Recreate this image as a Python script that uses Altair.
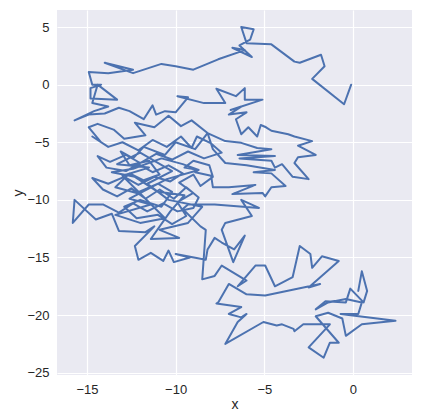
import altair as alt
import pandas as pd

upper = [(-0.1,0.0),(-0.5,-1.7),(-2.3,0.5),(-1.6,1.6),(-1.8,2.6),(-3.0,1.9),(-3.3,2.0),(-4.6,3.5),(-6.0,3.6),(-6.3,5.0),(-5.6,4.8),(-5.8,3.9),(-6.4,3.4),(-5.7,2.4),(-6.8,3.2),(-6.1,3.0),(-7.6,2.2),(-9.0,1.3),(-10.0,1.6),(-10.8,1.8),(-12.4,1.0),(-13.3,1.5),(-14.0,1.9),(-12.4,1.3),(-13.8,1.0),(-14.9,1.1),(-14.7,0.0),(-14.2,0.0),(-14.8,-0.3),(-14.8,-1.2),(-13.3,-1.3),(-14.4,0.0),(-14.7,-1.6)]

left_row = [(-13.8,-1.9),(-14.6,-2.3),(-15.7,-3.1),(-14.9,-2.6),(-14.0,-2.5),(-13.2,-2.0),(-12.6,-2.3),(-11.8,-3.0),(-11.3,-1.8),(-11.1,-2.6),(-10.6,-2.3),(-10.0,-2.4),(-9.3,-1.1),(-9.9,-1.0),(-8.4,-1.6),(-7.2,-1.6),(-7.7,-0.35),(-6.6,-1.0),(-6.1,-0.3),(-6.1,-1.3),(-5.1,-1.3),(-6.9,-2.2),(-6.3,-1.9),(-7.0,-2.6),(-6.0,-2.4),(-6.6,-3.0),(-6.3,-4.3),(-5.9,-3.7),(-5.4,-4.5),(-5.2,-3.5),(-4.9,-3.7),(-4.6,-4.0),(-3.65,-4.3),(-3.3,-4.5),(-2.3,-4.9),(-3.1,-5.3),(-2.1,-6.1),(-3.1,-6.3),(-3.3,-6.8),(-2.5,-8.2),(-3.4,-8.0),(-4.0,-6.9),(-4.4,-7.2),(-4.6,-6.6),(-6.4,-6.4),(-4.4,-6.2),(-6.5,-6.1),(-4.6,-5.6),(-5.4,-5.5),(-6.3,-5.05),(-7.2,-4.9),(-8.2,-4.2)]

center_b = [(-8.9,-5.6),(-10.0,-5.0),(-10.6,-6.1),(-11.8,-5.4),(-12.4,-6.4),(-13.1,-5.8),(-12.6,-7.0),(-11.5,-6.6),(-10.9,-7.8),(-11.8,-8.3),(-12.6,-7.7),(-13.4,-8.9),(-12.2,-9.4),(-11.0,-8.6),(-10.2,-9.3),(-10.8,-10.6),(-12.0,-10.0),(-12.9,-10.6),(-12.2,-11.6),(-11.0,-11.3),(-10.2,-12.1),(-9.4,-11.4),(-9.9,-10.2),(-9.0,-9.4),(-9.8,-8.5),(-9.0,-7.8),(-8.6,-8.8),(-7.9,-8.0),(-8.1,-7.0),(-9.0,-6.6),(-9.5,-7.2),(-8.7,-7.4)]

center_d = [(-10.5,-8.2),(-12.6,-9.9),(-11.4,-10.4),(-13.4,-11.3),(-12.0,-12.0),(-10.6,-11.6),(-11.9,-9.6),(-13.0,-7.9),(-11.5,-7.2),(-13.3,-6.9),(-12.0,-5.9),(-10.2,-7.5),(-11.6,-8.6),(-10.4,-10.0),(-8.5,-10.6),(-9.3,-12.0),(-10.9,-12.6),(-9.8,-13.3),(-11.4,-13.4),(-10.3,-11.0),(-9.5,-9.6),(-11.0,-9.3),(-12.3,-8.0),(-13.6,-7.6),(-12.4,-7.3),(-10.8,-6.4),(-9.6,-6.9),(-8.7,-7.4)]

center_c = [(-8.9,-7.6),(-8.0,-7.9),(-7.9,-8.9),(-7.0,-8.9),(-5.5,-8.7),(-6.8,-9.5),(-5.1,-9.4),(-4.95,-9.7),(-4.6,-8.9),(-3.8,-8.8),(-4.6,-7.7),(-5.6,-7.6),(-4.4,-7.4),(-6.0,-7.0),(-7.2,-6.8),(-7.9,-5.6),(-8.2,-4.2)]

center_a = [(-9.1,-3.1),(-9.7,-3.6),(-10.4,-2.7),(-11.2,-3.7),(-12.3,-3.3),(-11.7,-4.4),(-12.9,-4.7),(-13.5,-3.9),(-14.4,-3.4),(-14.9,-3.7),(-14.2,-5.0),(-14.7,-4.5),(-13.8,-5.4),(-13.0,-5.0),(-12.1,-5.7),(-11.3,-4.8),(-10.5,-5.4),(-9.7,-4.5),(-9.1,-5.5),(-8.8,-4.5),(-8.0,-5.1),(-7.4,-5.9),(-8.4,-6.4),(-9.3,-5.8),(-10.2,-6.5),(-11.1,-6.0),(-12.0,-6.8),(-12.8,-6.1),(-13.7,-6.7),(-14.4,-6.2),(-13.9,-7.2),(-12.8,-7.5),(-12.1,-6.9),(-11.3,-7.6),(-10.4,-7.0),(-9.6,-7.7),(-10.3,-8.4),(-11.2,-8.0),(-12.1,-8.7),(-12.9,-8.0),(-13.8,-8.6),(-14.7,-8.1),(-14.1,-9.1),(-13.3,-9.7),(-12.5,-9.0),(-11.7,-9.9),(-10.9,-9.1),(-10.1,-9.9),(-9.4,-8.9),(-8.7,-9.8),(-9.0,-10.7),(-9.9,-11.0),(-10.7,-10.3),(-11.6,-11.0),(-12.4,-10.3),(-13.2,-11.1),(-14.1,-10.4),(-14.9,-10.4),(-15.8,-12.0),(-15.7,-10.0),(-14.5,-11.7),(-13.6,-11.2),(-13.2,-12.7),(-11.7,-12.8),(-11.2,-12.3),(-12.3,-14.0),(-12.1,-15.2),(-11.4,-14.6),(-10.7,-15.3),(-10.4,-14.4),(-10.1,-15.4)]

lower = [(-9.2,-15.0),(-10.0,-14.7),(-8.3,-15.2),(-8.2,-14.3),(-7.8,-13.3),(-7.4,-13.7),(-6.7,-14.3),(-6.1,-13.1),(-6.75,-15.4),(-7.4,-12.6),(-7.2,-12.0),(-5.7,-11.4),(-6.3,-10.0),(-5.3,-10.7),(-7.8,-10.4),(-9.3,-10.4),(-9.6,-10.8),(-8.6,-12.3),(-8.3,-12.6),(-8.5,-16.9),(-7.8,-16.6),(-7.4,-15.7),(-6.0,-17.0),(-6.5,-17.5),(-5.5,-15.7),(-4.95,-15.7),(-4.4,-17.5),(-3.4,-16.7),(-3.0,-14.0),(-2.4,-14.7),(-2.3,-15.9),(-1.75,-14.9),(-0.8,-15.3),(-2.5,-17.6),(-1.85,-17.3),(-4.95,-18.3),(-6.0,-18.2),(-7.0,-17.3),(-7.6,-18.9),(-7.7,-19.0),(-6.3,-19.3),(-7.0,-19.9),(-6.3,-20.2),(-6.0,-19.9),(-6.5,-20.6),(-7.2,-22.5),(-5.05,-20.6),(-4.3,-20.9),(-4.0,-20.8),(-3.35,-21.2),(-3.3,-21.4),(-2.8,-20.8),(-1.3,-20.8),(-2.5,-22.8),(-1.65,-23.7),(-1.3,-22.4),(-0.8,-22.4),(-2.1,-20.1),(-1.4,-19.8),(-0.6,-20.3),(-0.4,-21.8),(0.5,-20.8),(2.4,-20.5),(-0.7,-19.9),(0.3,-19.9),(0.5,-18.9),(-0.4,-18.6),(-1.4,-18.9),(-2.1,-19.5),(-1.55,-18.8),(-0.4,-18.9),(-0.15,-17.7),(0.6,-18.9),(0.8,-17.9),(0.5,-16.2),(0.3,-17.9)]

x_ticks = [-15, -10, -5, 0]
y_ticks = [5, 0, -5, -10, -15, -20, -25]

path = upper + left_row + center_b + center_d + center_c + center_a + lower
df = pd.DataFrame({
    "i": list(range(len(path))),
    "x": [p[0] for p in path],
    "y": [p[1] for p in path],
})

chart = alt.Chart(df).mark_line(
    color="#4C72B0", strokeWidth=2, strokeJoin="round", strokeCap="round"
).encode(
    x=alt.X("x:Q", scale=alt.Scale(domain=[-16.69, 3.33], nice=False, zero=False),
            axis=alt.Axis(values=x_ticks, title="x", format="d", titlePadding=1)),
    y=alt.Y("y:Q", scale=alt.Scale(domain=[-25.2, 6.48], nice=False, zero=False),
            axis=alt.Axis(values=y_ticks, title="y", format="d", titlePadding=1)),
    order=alt.Order("i:Q"),
).properties(
    width=355, height=365,
    autosize=alt.AutoSizeParams(type="none"),
    padding={"left": 49, "top": 2, "right": 0, "bottom": 37},
).configure_view(
    fill="#EAEAF2", stroke=None
).configure_axis(
    grid=True, gridColor="white", gridWidth=1.2, domain=False, ticks=False,
    labelFont="Liberation Sans", labelFontSize=13, labelColor="#262626", labelPadding=8,
    titleFont="Liberation Sans", titleFontSize=14, titleColor="#262626", titleFontWeight="normal",
)

chart.save("out.html", embed_options={"renderer": "svg", "actions": False})
